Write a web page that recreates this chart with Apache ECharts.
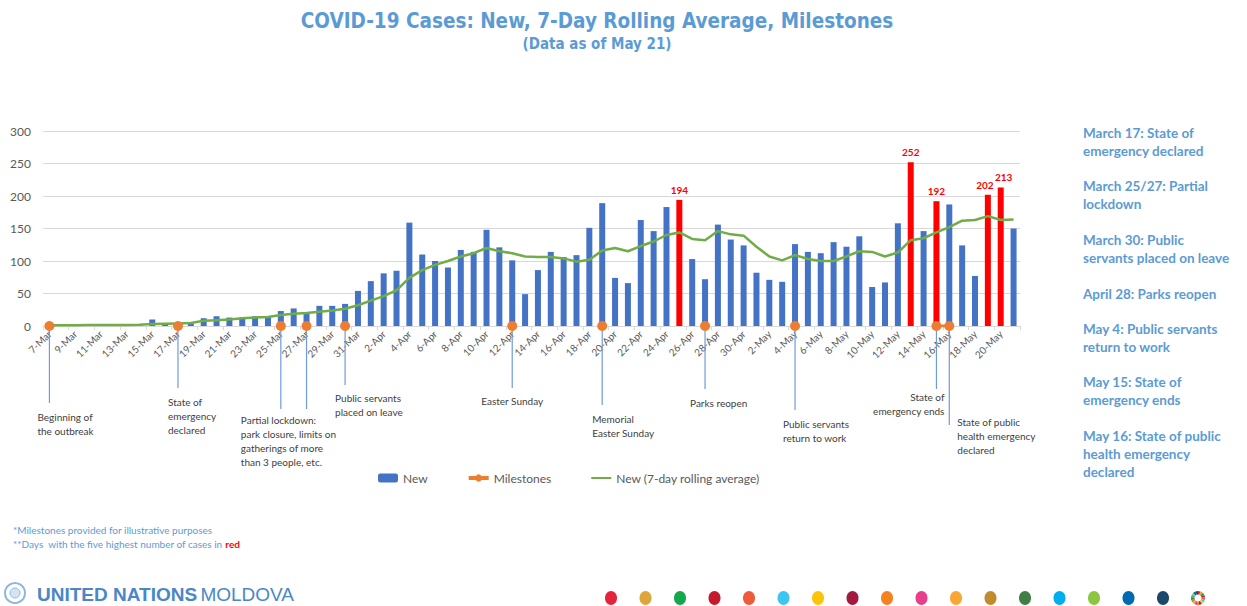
<!DOCTYPE html>
<html><head><meta charset="utf-8">
<script src="https://cdn.jsdelivr.net/npm/echarts@6/dist/echarts.min.js"></script>
<style>html,body{margin:0;padding:0;background:#fff}#c{width:1247px;height:606px}</style>
</head><body><div id="c"></div>
<script>
// ---------------- DATA ----------------
const dates = ['7-Mar','8-Mar','9-Mar','10-Mar','11-Mar','12-Mar','13-Mar','14-Mar','15-Mar','16-Mar',
 '17-Mar','18-Mar','19-Mar','20-Mar','21-Mar','22-Mar','23-Mar','24-Mar','25-Mar','26-Mar',
 '27-Mar','28-Mar','29-Mar','30-Mar','31-Mar','1-Apr','2-Apr','3-Apr','4-Apr','5-Apr',
 '6-Apr','7-Apr','8-Apr','9-Apr','10-Apr','11-Apr','12-Apr','13-Apr','14-Apr','15-Apr',
 '16-Apr','17-Apr','18-Apr','19-Apr','20-Apr','21-Apr','22-Apr','23-Apr','24-Apr','25-Apr',
 '26-Apr','27-Apr','28-Apr','29-Apr','30-Apr','1-May','2-May','3-May','4-May','5-May',
 '6-May','7-May','8-May','9-May','10-May','11-May','12-May','13-May','14-May','15-May',
 '16-May','17-May','18-May','19-May','20-May','21-May'];

const newCases = [1,0,0,1,1,0,1,1,10,4,
 2,4,12,15,13,13,15,15,23,27,
 19,31,31,34,54,69,81,85,159,110,
 100,90,117,114,148,121,101,49,86,114,
 106,109,151,189,74,66,163,146,183,194,
 103,72,156,133,124,82,71,68,126,114,
 112,129,122,138,60,67,158,252,146,192,
 187,124,77,202,213,150];

const rollingAvg = [1,1,1,1.5,1.5,1.5,1.5,2,3,3.5,
 4,4.5,8,9,10,12,13,14,17,19,
 20,22,24,26.5,32,39,46,55,74,86,
 94,100,107,112,120,115,112,107,106,106,
 104,99,102,116,120,115,123,130,140,144,
 134,132,146,141,139,122,107,101,109,103,
 100,100,107,115,114,107,113,132,135,144,
 152,162,163,169,163,164];

const topFiveDays = ['25-Apr','13-May','15-May','19-May','20-May'];

const milestoneDates = ['7-Mar','17-Mar','25-Mar','27-Mar','30-Mar','12-Apr','19-Apr','27-Apr','4-May','15-May','16-May'];
const milestoneLabels = [
 'Beginning of\nthe outbreak',
 'State of\nemergency\ndeclared',
 'Partial lockdown:\npark closure, limits on\ngatherings of more\nthan 3 people, etc.',
 '',
 'Public servants\nplaced on leave',
 'Easter Sunday',
 'Memorial\nEaster Sunday',
 'Parks reopen',
 'Public servants\nreturn to work',
 'State of\nemergency ends',
 'State of public\nhealth emergency\ndeclared'];

const yTicks = [0,50,100,150,200,250,300];

const sideNotes = [
 'March 17: State of\nemergency declared',
 'March 25/27: Partial\nlockdown',
 'March 30: Public\nservants placed on leave',
 'April 28: Parks reopen',
 'May 4: Public servants\nreturn to work',
 'May 15: State of\nemergency ends',
 'May 16: State of public\nhealth emergency\ndeclared'];

// ---------------- STYLE / LAYOUT ----------------
const FONT = 'Lato, "Open Sans", sans-serif';
const NARROW = '"Liberation Sans Narrow", "Arial Narrow", "DejaVu Sans Condensed", "Liberation Sans", sans-serif';
const BLUE = '#4472C4', RED = '#FF0000', GREEN = '#70AD47', ORANGE = '#ED7D31', HEAD = '#5B9BD5';
const annLayout = [
 {len:77, dx:-12, dy:84, align:'left'},
 {len:62, dx:-10, dy:69, align:'left'},
 {len:83, dx:-40, dy:87, align:'left'},
 {len:83, dx:0, dy:0, align:'left'},
 {len:59, dx:-10, dy:65, align:'left'},
 {len:62, dx:0, dy:68, align:'center'},
 {len:79, dx:-10, dy:86, align:'left'},
 {len:63, dx:-15, dy:70, align:'left'},
 {len:84, dx:-12, dy:91, align:'left'},
 {len:63, dx:8, dy:64, align:'right'},
 {len:99, dx:8, dy:89, align:'left'}];
const sideTops = [124,177,231,285,320,373,427];
const labelNudge = {'19-May':[-3,0], '20-May':[3,-1]};

const barData = newCases.map((v,i)=>{
  const hi = topFiveDays.includes(dates[i]);
  return {value:v, itemStyle:{color: hi ? RED : BLUE},
          label:{show: hi, offset: labelNudge[dates[i]] || [0,0]}};
});
const milestoneData = dates.map(d => milestoneDates.includes(d) ? 0 : null);
const annData = milestoneDates.map((d,k)=>[dates.indexOf(d), 0, k]);

const sdgColors = ['#E5243B','#DDA63A','#12A84B','#C5192D','#EF5A3A','#3FC6F0','#FCC30B','#A21942',
 '#F58220','#E83E8C','#FAA634','#BF8B2E','#3F7E44','#00AEEF','#8CC63F','#0069B4','#19486A'];

const graphics = [];
graphics.push({type:'text', x:597, y:21, style:{text:'COVID-19 Cases: New, 7-Day Rolling Average, Milestones',
  fill:HEAD, font:'bold 20.5px '+NARROW, align:'center', verticalAlign:'middle'}});
graphics.push({type:'text', x:597, y:44, style:{text:'(Data as of May 21)',
  fill:HEAD, font:'bold 15px '+NARROW, align:'center', verticalAlign:'middle'}});
sideNotes.forEach((t,i)=>graphics.push({type:'text', x:1083, y:sideTops[i], style:{text:t, fill:HEAD,
  font:'bold 13.5px '+FONT, lineHeight:18, align:'left', verticalAlign:'top'}}));
graphics.push({type:'text', x:13, y:530, style:{text:'*Milestones provided for illustrative purposes',
  fill:HEAD, font:'10px '+FONT, verticalAlign:'middle'}});
graphics.push({type:'text', x:13, y:544, style:{text:'**Days  with the five highest number of cases in {r|red}',
  fill:HEAD, font:'10px '+FONT, verticalAlign:'middle',
  rich:{r:{fill:'#FF0000', font:'bold 10px '+FONT}}}});
// UN logo
graphics.push({type:'circle', shape:{cx:15, cy:593, r:10}, style:{fill:'none', stroke:'#8FB6E0', lineWidth:2}});
graphics.push({type:'circle', shape:{cx:15, cy:593, r:5}, style:{fill:'#D5E4F4', stroke:'#8FB6E0', lineWidth:1}});
graphics.push({type:'text', x:37, y:594, style:{text:'{b|UNITED NATIONS} {n|MOLDOVA}',
  verticalAlign:'middle', rich:{b:{fill:'#4A86C8', font:'bold 19px "Liberation Sans", Arial, sans-serif'},
  n:{fill:'#4A86C8', font:'19px "Liberation Sans", Arial, sans-serif'}}}});
sdgColors.forEach((c,i)=>graphics.push({type:'ellipse', shape:{cx:611+i*34.5, cy:598, rx:6, ry:7}, style:{fill:c}}));
sdgColors.forEach((c,i)=>{
  const a0 = -Math.PI/2 + i*2*Math.PI/17, a1 = a0 + 2*Math.PI/17;
  graphics.push({type:'sector', shape:{cx:1198, cy:598, r:7, r0:3.5, startAngle:a0, endAngle:a1}, style:{fill:c}});
});

const chart = echarts.init(document.getElementById('c'), null, {renderer:'svg'});
chart.setOption({
  animation:false,
  backgroundColor:'#fff',
  textStyle:{fontFamily:FONT},
  grid:{left:43, right:227, top:131, bottom:280, containLabel:false},
  legend:{data:['New',
      {name:'Milestones', lineStyle:{width:4}},
      {name:'New (7-day rolling average)', itemStyle:{opacity:0}}],
    left:373, top:467, itemWidth:20, itemHeight:9, itemGap:39,
    textStyle:{fontSize:12, color:'#595959', fontFamily:FONT}},
  xAxis:{type:'category', data:dates, boundaryGap:true,
    axisLine:{lineStyle:{color:'#D9D9D9'}},
    axisTick:{show:true, interval:1, length:4, lineStyle:{color:'#D9D9D9'}},
    axisLabel:{interval:1, rotate:45, fontSize:10, color:'#595959', margin:6, fontFamily:FONT}},
  yAxis:{type:'value', min:yTicks[0], max:yTicks[yTicks.length-1], interval:yTicks[1]-yTicks[0],
    axisLine:{show:false}, axisTick:{show:false},
    axisLabel:{fontSize:12, color:'#595959', margin:12, fontFamily:FONT},
    splitLine:{lineStyle:{color:'#D9D9D9'}}},
  graphic:graphics,
  series:[
    {name:'New', type:'bar', data:barData, barWidth:6, z:2, itemStyle:{color:BLUE},
      label:{position:'top', distance:5, color:RED, fontWeight:'bold', fontSize:10, fontFamily:FONT}},
    {name:'New (7-day rolling average)', type:'line', data:rollingAvg, symbol:'none', z:3,
      itemStyle:{color:GREEN}, lineStyle:{color:GREEN, width:2.5}},
    {name:'annotations', type:'custom', coordinateSystem:'cartesian2d', data:annData, z:4, silent:true, clip:false,
      renderItem:(params, api)=>{
        const k = api.value(2);
        const p = api.coord([api.value(0), 0]);
        const L = annLayout[k];
        const children = [{type:'line', shape:{x1:p[0], y1:p[1], x2:p[0], y2:p[1]+L.len},
          style:{stroke:'#6F9BD8', lineWidth:1.2}}];
        if (milestoneLabels[k]) children.push({type:'text', style:{text:milestoneLabels[k],
          x:p[0]+L.dx, y:p[1]+L.dy, align:L.align, verticalAlign:'top', fill:'#404040',
          font:'10px '+FONT, lineHeight:14}});
        return {type:'group', children};
      }},
    {name:'Milestones', type:'line', data:milestoneData, symbol:'circle', symbolSize:10, showAllSymbol:true,
      z:6, itemStyle:{color:ORANGE}, lineStyle:{color:ORANGE, width:3}}
  ]
});
</script></body></html>
